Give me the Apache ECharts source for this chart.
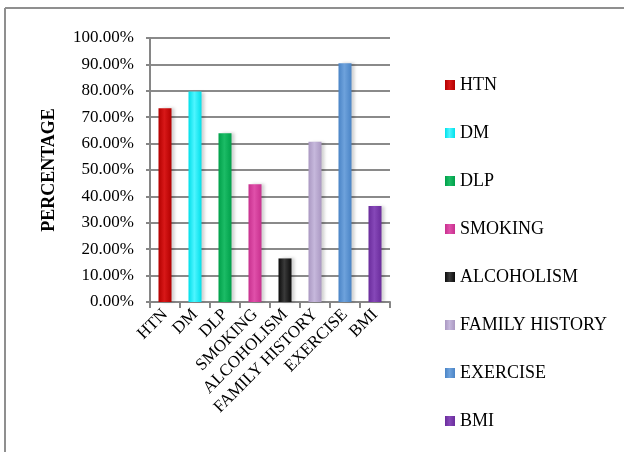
<!DOCTYPE html>
<html>
<head>
<meta charset="utf-8">
<script src="https://cdn.jsdelivr.net/npm/echarts@6/dist/echarts.min.js"></script>
<style>
  html, body { margin: 0; padding: 0; background: #fff; }
  #chart { width: 624px; height: 452px; }
</style>
</head>
<body>
<div id="chart"></div>
<script>
// Risk factor prevalence (fraction of patients)
const categories = ['HTN', 'DM', 'DLP', 'SMOKING', 'ALCOHOLISM', 'FAMILY HISTORY', 'EXERCISE', 'BMI'];
const values = [0.734, 0.797, 0.639, 0.446, 0.165, 0.607, 0.904, 0.364];
const yTicks = [0, 0.1, 0.2, 0.3, 0.4, 0.5, 0.6, 0.7, 0.8, 0.9, 1.0];

// Base colour plus a lighter highlight for each factor
const baseColors = ['#b30000', '#00e0ea', '#00a04a', '#c8308e', '#0c0c0c', '#aa98c2', '#4a84c6', '#6a2c9c'];
const lightColors = ['#d81818', '#4ff5ff', '#1cbc66', '#e050aa', '#3a3a3a', '#c6b8dc', '#6ea2dc', '#8648b8'];

const serif = "'Liberation Serif', 'Times New Roman', serif";

const series = categories.map((name, i) => ({
  name,
  type: 'bar',
  stack: 'all',
  barWidth: 13,
  data: categories.map((c, j) => (j === i ? values[i] : '-')),
  itemStyle: {
    color: new echarts.graphic.LinearGradient(0, 0, 1, 0, [
      { offset: 0, color: baseColors[i] },
      { offset: 0.45, color: lightColors[i] },
      { offset: 1, color: baseColors[i] }
    ]),
    shadowColor: 'rgba(0,0,0,0.18)',
    shadowBlur: 3,
    shadowOffsetX: 3
  }
}));

const chart = echarts.init(document.getElementById('chart'), null, { renderer: 'canvas' });
chart.setOption({
  backgroundColor: '#fff',
  animation: false,
  graphic: [
    { type: 'line', shape: { x1: 5, y1: 8, x2: 624, y2: 8 }, style: { stroke: '#8f8f8f', lineWidth: 2 } },
    { type: 'line', shape: { x1: 5, y1: 8, x2: 5, y2: 452 }, style: { stroke: '#8f8f8f', lineWidth: 2 } }
  ],
  grid: { left: 150, right: 234, top: 38, bottom: 150 },
  legend: {
    orient: 'vertical',
    left: 440,
    top: 71,
    itemWidth: 10,
    itemHeight: 10,
    itemGap: 30,
    icon: 'rect',
    data: categories,
    textStyle: { fontFamily: serif, fontSize: 18, color: '#000', lineHeight: 18 }
  },
  xAxis: {
    type: 'category',
    data: categories,
    axisLine: { lineStyle: { color: '#868686', width: 2 } },
    axisTick: { show: true, length: 6, lineStyle: { color: '#868686', width: 2 } },
    axisLabel: {
      rotate: 45,
      margin: 10,
      interval: 0,
      fontFamily: serif,
      fontSize: 17,
      color: '#000'
    }
  },
  yAxis: {
    type: 'value',
    min: 0,
    max: 1,
    interval: 0.1,
    name: 'PERCENTAGE',
    nameLocation: 'middle',
    nameGap: 92,
    nameTextStyle: { fontFamily: serif, fontSize: 18, fontWeight: 'bold', color: '#000' },
    axisLine: { show: true, lineStyle: { color: '#868686', width: 2 } },
    axisTick: { show: true, length: 4, lineStyle: { color: '#868686', width: 2 } },
    splitLine: { lineStyle: { color: '#8a8a8a', width: 2 } },
    axisLabel: {
      margin: 16,
      fontFamily: serif,
      fontSize: 17,
      color: '#000',
      formatter: v => (yTicks.includes(Math.round(v * 10) / 10) ? (v * 100).toFixed(2) + '%' : '')
    }
  },
  series
});
</script>
</body>
</html>
